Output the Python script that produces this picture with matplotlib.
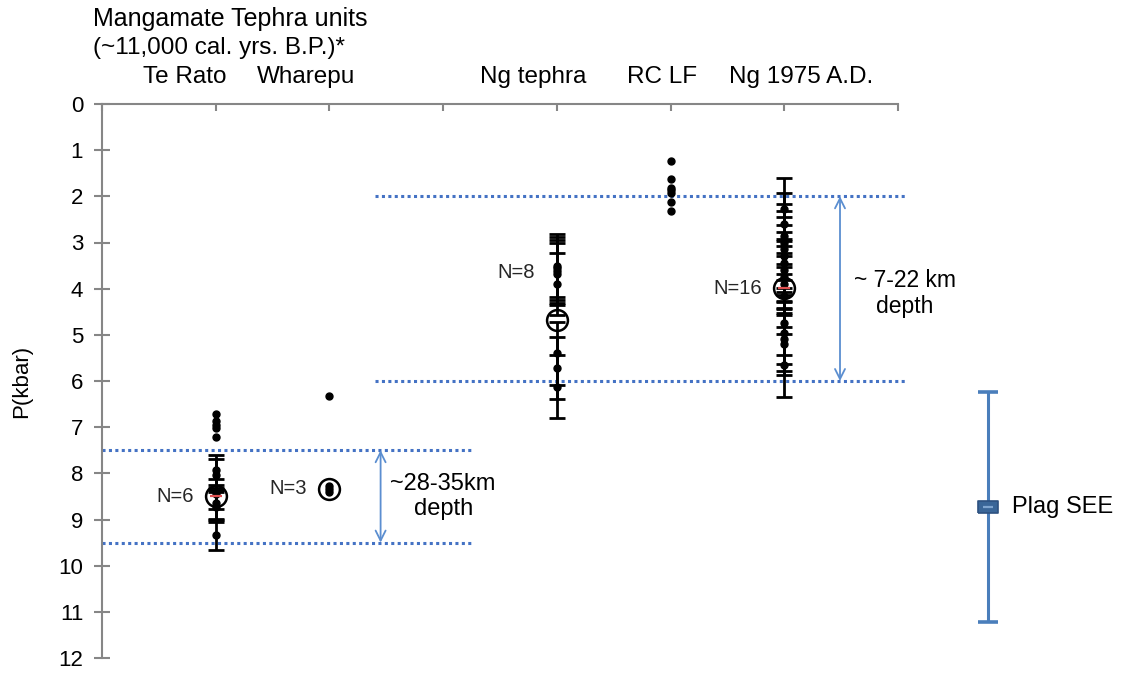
import matplotlib
matplotlib.use("Agg")
import matplotlib.pyplot as plt
from matplotlib.path import Path

plt.rcParams['font.family'] = ['Liberation Sans', 'DejaVu Sans']

# ---- data (pressures in kbar) ----
categories = ["Te Rato", "Wharepu", "Ng tephra", "RC LF", "Ng 1975 A.D."]
category_x = [1, 2, 4, 5, 6]

# plagioclase-melt pressures with uncertainty bars
te_rato_p = [7.93, 8.03, 8.45, 8.65, 8.73, 9.33]
te_rato_err = 0.33
ng_tephra_p = [3.50, 3.56, 3.62, 3.68, 3.90, 5.40, 5.72, 6.12]
ng_tephra_err = 0.68
ng1975_p = [2.28, 2.61, 2.85, 3.00, 3.13, 3.30, 3.45, 3.60,
            3.75, 3.90, 4.15, 4.75, 4.95, 5.10, 5.20, 5.66]
ng1975_err = 0.68

# single-point estimates without bars
te_rato_extra_p = [6.71, 6.87, 6.95, 7.02, 7.21]
wharepu_p = [6.32, 8.27, 8.34, 8.41]
rc_lf_p = [1.23, 1.62, 1.82, 1.87, 1.93, 2.12, 2.32]

# group averages
mean_x = [1, 2, 4, 6]
mean_p = [8.50, 8.35, 4.68, 3.99]
mean_n = [6, 3, 8, 16]
mean_flag = [True, False, False, True]
n_label_p = [8.50, 8.33, 3.64, 3.99]

# depth ranges
deep_band = [7.5, 9.5]
shallow_band = [2.0, 6.0]
deep_text = "~28-35km\ndepth"
shallow_text = "~ 7-22 km\ndepth"

# standard error of estimate
see_center = 8.73
see_err = 2.5

yticks = list(range(0, 13))

# ---- figure ----
W, H = 1123, 673
fig = plt.figure(figsize=(W / 100, H / 100), dpi=100)

def fx(px):
    return px / W

def fy(py):
    return 1 - py / H

ax = fig.add_axes([fx(102), fy(658), (898 - 102) / W, (658 - 104) / H])
ax.set_xlim(0, 7)
ax.set_ylim(12, 0)

grey = '#868686'
for s in ['bottom', 'right']:
    ax.spines[s].set_visible(False)
for s in ['left', 'top']:
    ax.spines[s].set_color(grey)
    ax.spines[s].set_linewidth(1.5)

ax.xaxis.set_ticks_position('top')
ax.set_xticks(range(0, 8))
ax.set_xticklabels([])
ax.tick_params(axis='x', direction='in', length=5, width=1.5, color=grey)
ax.set_yticks(yticks)
ax.set_yticklabels([str(t) for t in yticks], fontsize=16)
ax.tick_params(axis='y', direction='inout', length=11, width=1.5, color=grey, pad=8)

blue_dot = '#4472C4'
dot_style = dict(colors=blue_dot, linestyles=(0, (1, 1.1)), linewidth=2.2, zorder=1)
ax.hlines(deep_band, 0, 3.26, clip_on=False, **dot_style)
ax.hlines(shallow_band, 2.40, 7.06, clip_on=False, **dot_style)

arrow_c = '#5B8ED0'
ax.annotate('', xy=(2.45, deep_band[0]), xytext=(2.45, deep_band[1]),
            arrowprops=dict(arrowstyle='<->', color=arrow_c, lw=1.3,
                            mutation_scale=18, shrinkA=0, shrinkB=0))
ax.annotate('', xy=(6.49, shallow_band[0]), xytext=(6.49, shallow_band[1]),
            arrowprops=dict(arrowstyle='<->', color=arrow_c, lw=1.3,
                            mutation_scale=18, shrinkA=0, shrinkB=0),
            annotation_clip=False)
ax.text(3.0, sum(deep_band) / 2, deep_text, ha='center', va='center',
        fontsize=17, linespacing=1.15)
ax.text(7.06, 4.1, shallow_text, ha='center', va='center',
        fontsize=16.5, linespacing=1.15, clip_on=False)

# data with bars
eb = dict(fmt='o', color='black', ms=5, lw=2, capsize=6, capthick=2, zorder=3)
ax.errorbar([category_x[0]] * len(te_rato_p), te_rato_p, yerr=te_rato_err, **eb)
ax.errorbar([category_x[2]] * len(ng_tephra_p), ng_tephra_p, yerr=ng_tephra_err, **eb)
ax.errorbar([category_x[4]] * len(ng1975_p), ng1975_p, yerr=ng1975_err, **eb)

# data without bars
pt = dict(ls='none', marker='o', color='black', ms=5, zorder=3)
ax.plot([category_x[0]] * len(te_rato_extra_p), te_rato_extra_p, **pt)
ax.plot([category_x[1]] * len(wharepu_p), wharepu_p, **pt)
ax.plot([category_x[3]] * len(rc_lf_p), rc_lf_p, **pt)

# averages
ax.plot(mean_x, mean_p, ls='none', marker='o', ms=15, mfc='none', mec='black',
        mew=1.8, zorder=4)
for x, p, flag in zip(mean_x, mean_p, mean_flag):
    if flag:
        ax.plot([x], [p], marker='_', ms=9, mew=1.6, color='#E05050', zorder=5)
for x, p, n in zip(mean_x, n_label_p, mean_n):
    ax.annotate(f"N={n}", xy=(x, p), xytext=(-16, 0), textcoords='offset points',
                ha='right', va='center', fontsize=14.5, color='#262626')

# standard error of estimate bar
see_x = 7.79
see_c = '#4A7EBB'
rr = Path([(-1, -0.55), (1, -0.55), (1, 0.55), (-1, 0.55), (-1, -0.55)])
ax.errorbar([see_x], [see_center], yerr=see_err, fmt='none', ecolor=see_c,
            lw=2.2, capsize=7, capthick=2.6, clip_on=False, zorder=3)
ax.plot([see_x], [see_center], marker=rr, ms=15, mfc='#3A6698', mec='#2D5180',
        mew=1.2, clip_on=False, zorder=4)
ax.plot([see_x], [see_center], marker='_', ms=7, mew=1.6, color='#7FA5D0',
        clip_on=False, zorder=5)
ax.text(8.0, see_center, "Plag SEE", ha='left', va='center', fontsize=17,
        clip_on=False)

# labels
label_px = [185, 306, 533, 662, 801]
for name, px in zip(categories, label_px):
    fig.text(fx(px), fy(77), name, ha='center', va='center', fontsize=17.5)
fig.text(fx(93), fy(19), "Mangamate Tephra units", ha='left', va='center', fontsize=18)
fig.text(fx(93), fy(48), "(~11,000 cal. yrs. B.P.)*", ha='left', va='center', fontsize=17.5)
fig.text(fx(22), fy(381), "P(kbar)", rotation=90, ha='center', va='center', fontsize=16)

fig.savefig("out.png", dpi=100)
